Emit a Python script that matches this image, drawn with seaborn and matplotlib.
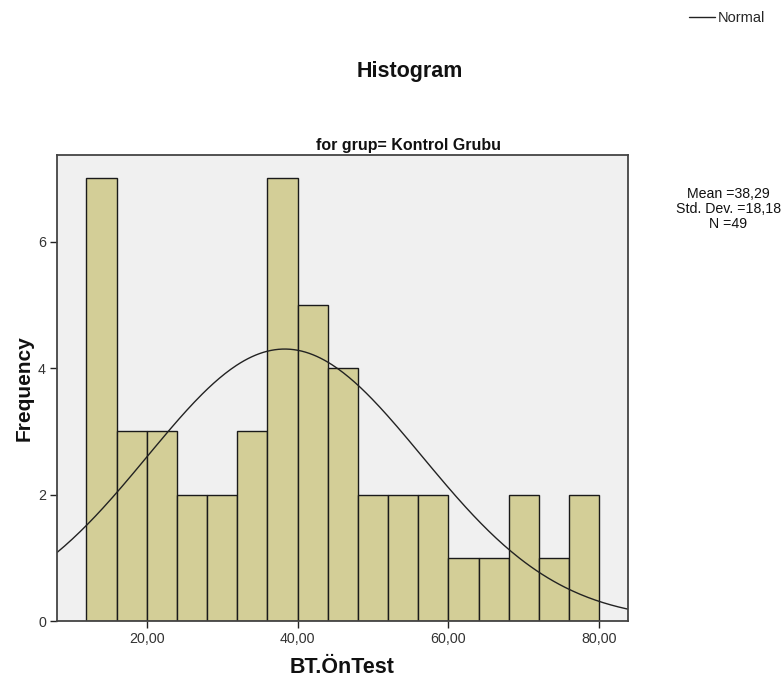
import numpy as np
import pandas as pd
import matplotlib
matplotlib.use("Agg")
import matplotlib.pyplot as plt
import seaborn as sns
from matplotlib.lines import Line2D

# Bin counts (bins of width 4 starting at 12)
bin_start = 12
bin_width = 4
counts = [7, 3, 3, 2, 2, 3, 7, 5, 4, 2, 2, 2, 1, 1, 2, 1, 2]
x_ticks = [20, 40, 60, 80]
x_tick_labels = ["20,00", "40,00", "60,00", "80,00"]
y_ticks = [0, 2, 4, 6]

mean_val = 38.29
std_val = 18.18
n_val = 49

sns.set_style("white")
plt.rcParams['font.family'] = ['Liberation Sans', 'DejaVu Sans']

bin_end = bin_start + bin_width * len(counts)
centers = bin_start + bin_width * (np.arange(len(counts)) + 0.5)
df = pd.DataFrame({'BT.ÖnTest': centers, 'count': counts})

fig = plt.figure(figsize=(7.84, 6.84), dpi=100)
ax = fig.add_axes([0.0727, 0.0921, 0.7283, 0.6813])
ax.set_facecolor('#F0F0F0')

sns.histplot(data=df, x='BT.ÖnTest', weights='count', binwidth=bin_width,
             binrange=(bin_start, bin_end),
             color='#D3CE97', edgecolor='#1a1a1a', linewidth=1.0,
             alpha=1, ax=ax)

# Normal curve scaled to frequencies
xs = np.linspace(8.1, 83.8, 300)
ys = n_val * bin_width / (std_val * np.sqrt(2 * np.pi)) * np.exp(-0.5 * ((xs - mean_val) / std_val) ** 2)
ax.plot(xs, ys, color='#222222', linewidth=1.0)

ax.set_xlim(8.1, 83.8)
ax.set_ylim(0, 7.37)
ax.set_xticks(x_ticks)
ax.set_xticklabels(x_tick_labels)
ax.set_yticks(y_ticks)
ax.tick_params(axis='both', direction='out', length=5, width=1, color='#222222',
               labelsize=10.3, labelcolor='#333333', left=True, bottom=True, pad=3)

for s in ax.spines.values():
    s.set_color('#444444')
    s.set_linewidth(1.3)

ax.set_xlabel('BT.ÖnTest', fontsize=15.5, fontweight='bold', labelpad=8, color='#111111')
ax.set_ylabel('Frequency', fontsize=15, fontweight='bold', labelpad=3, color='#111111')

fig.text(0.521, 0.788, 'for grup= Kontrol Grubu', ha='center', va='center',
         fontsize=11.5, fontweight='bold', color='#111111')
fig.text(0.523, 0.895, 'Histogram', ha='center', va='center', fontsize=15.5,
         fontweight='bold', color='#111111')

# Stats box
fig.text(0.929, 0.695, 'Mean =38,29\nStd. Dev. =18,18\nN =49', ha='center', va='center',
         fontsize=10.2, linespacing=1.08, color='#111111')

# Legend
handle = Line2D([], [], color='#222222', linewidth=1.0)
fig.legend([handle], ['Normal'], loc='center left', bbox_to_anchor=(0.862, 0.973),
           frameon=False, fontsize=10.5, handlelength=1.8, handletextpad=0.15)

fig.savefig('out.png', dpi=100)
